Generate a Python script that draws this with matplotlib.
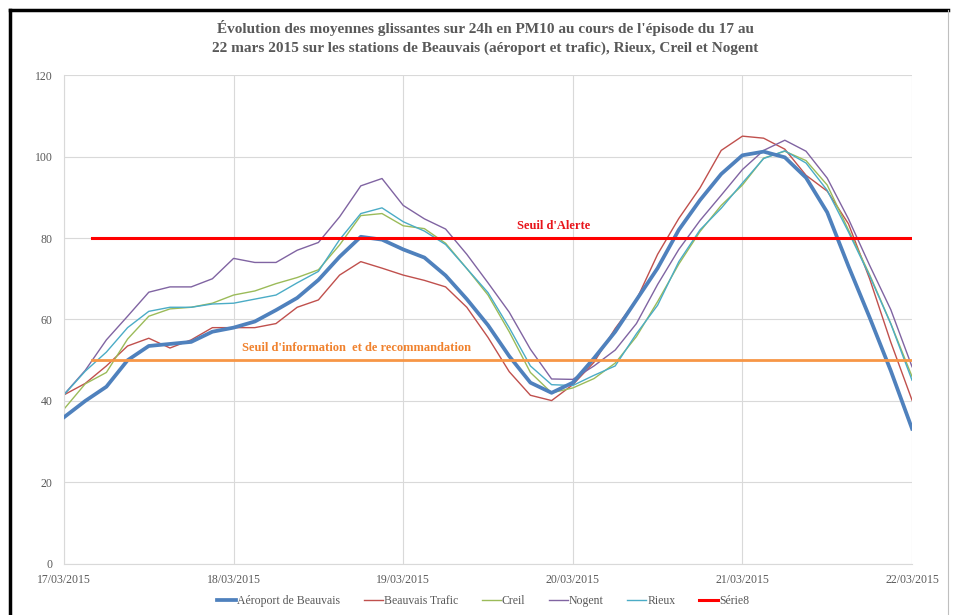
import numpy as np
import pandas as pd
import matplotlib
matplotlib.use("Agg")
import matplotlib.pyplot as plt
import matplotlib.dates as mdates
from matplotlib.lines import Line2D

# 24h rolling means, read every 3 hours from 17/03/2015 00h to 22/03/2015 00h
hours = pd.date_range("2015-03-17 00:00", "2015-03-22 00:00", freq="3h")

aeroport = [36, 40, 43.5, 50, 53.5, 54, 54.5, 57, 58,
            59.5, 62.3, 65.3, 69.7, 75.4, 80.3, 79.6, 77.2,
            75.2, 70.8, 65, 58.6, 51, 44.5, 42, 44.5,
            50.5, 57, 64.8, 72.6, 82, 89.3, 95.7, 100.3,
            101.2, 99.8, 94.8, 86.3, 73.1, 60.5, 47.4, 33.2]
trafic = [41.5, 44.3, 48.6, 53.5, 55.4, 53, 55, 58, 58,
          58, 59, 63, 64.8, 70.9, 74.2, 72.6, 70.9,
          69.6, 68, 63, 55.6, 47.2, 41.4, 40.1, 44,
          49.5, 57.8, 64.8, 76, 84.8, 92.3, 101.5, 105,
          104.5, 101.8, 95.4, 91.5, 83.5, 70, 54.4, 40.2]
creil = [38, 44.2, 47, 55.2, 60.8, 62.6, 63, 64, 66,
         67, 68.8, 70.3, 72.2, 78.3, 85.5, 86, 83,
         82.3, 78.7, 72.5, 66, 57, 47, 42, 43.2,
         45.5, 49.3, 55.8, 64.4, 73.6, 81.6, 88, 93,
         99.6, 101.3, 99, 93, 82, 71, 59, 46]
nogent = [41.6, 47.5, 55, 60.8, 66.7, 68, 68, 70, 75,
          74, 74, 77, 78.9, 85.2, 92.8, 94.6, 88,
          84.7, 82.2, 76, 69, 61.8, 52.7, 45.4, 45.3,
          48.6, 52.5, 59, 68.6, 77.2, 84.3, 90.5, 96.8,
          101.5, 104, 101.3, 94.7, 84.7, 73.3, 62.4, 48.4]
rieux = [41.5, 47.3, 52, 58, 62, 63, 63, 63.8, 64,
         65, 66, 69, 71.8, 79.6, 86, 87.4, 84,
         81.7, 78.4, 72.5, 66.6, 58, 48.6, 44, 43.8,
         46.3, 48.6, 56.5, 63.5, 74.2, 82, 87.3, 93.5,
         99.5, 101.4, 98.4, 91.7, 81.5, 70.7, 58.9, 45.1]

seuil_x = pd.to_datetime(["2015-03-17 04:00", "2015-03-22 00:00"])
seuil_alerte = [80, 80]
seuil_info = [50, 50]

day_ticks = pd.date_range("2015-03-17", "2015-03-22", freq="D")

serif = ["Liberation Serif", "DejaVu Serif"]
grey = "#595959"

fig = plt.figure(figsize=(9.55, 6.15), dpi=100)
ax = fig.add_axes([0.067, 0.083, 0.888, 0.795])

ax.plot(hours, aeroport, color="#4F81BD", lw=2.7, label="Aéroport de Beauvais", zorder=5)
ax.plot(hours, trafic, color="#C0504D", lw=1.0, label="Beauvais Trafic")
ax.plot(hours, creil, color="#9BBB59", lw=1.0, label="Creil")
ax.plot(hours, nogent, color="#8064A2", lw=1.0, label="Nogent")
ax.plot(hours, rieux, color="#4BACC6", lw=1.0, label="Rieux")
ax.plot(seuil_x, seuil_alerte, color="#FF0000", lw=2.2, label="Série8", zorder=6)
ax.plot(seuil_x, seuil_info, color="#F79646", lw=2.0, zorder=6)

ax.text(0.577, 0.691, "Seuil d'Alerte", transform=ax.transAxes, ha="center", va="center",
        color="#E8141B", fontsize=9, fontweight="bold", family=serif)
ax.text(0.345, 0.442, "Seuil d'information  et de recommandation", transform=ax.transAxes,
        ha="center", va="center", color="#F0822E", fontsize=9, fontweight="bold", family=serif)

ax.set_xlim(day_ticks[0], day_ticks[-1])
ax.set_ylim(0, 120)
ax.set_yticks(np.arange(0, 121, 20))
ax.set_xticks(day_ticks)
ax.xaxis.set_major_formatter(mdates.DateFormatter("%d/%m/%Y"))
ax.grid(True, color="#D9D9D9", lw=0.8)
ax.set_axisbelow(True)
for s in ["top", "right"]:
    ax.spines[s].set_visible(False)
for s in ["left", "bottom"]:
    ax.spines[s].set_color("#D9D9D9")
ax.tick_params(length=0, colors=grey, labelsize=8.5)
ax.tick_params(axis="y", pad=8)
ax.tick_params(axis="x", pad=7)
for lab in ax.get_xticklabels() + ax.get_yticklabels():
    lab.set_family(serif)

fig.text(0.508, 0.939, "Évolution des moyennes glissantes sur 24h en PM10 au cours de l'épisode du 17 au\n"
         "22 mars 2015 sur les stations de Beauvais (aéroport et trafic), Rieux, Creil et Nogent",
         ha="center", va="center", fontsize=11, fontweight="bold", color=grey, family=serif,
         linespacing=1.45)

handles, labels = ax.get_legend_handles_labels()
leg = fig.legend(handles, labels, loc="center", bbox_to_anchor=(0.506, 0.022), ncol=6,
                 frameon=False, handlelength=1.6, handletextpad=0.1, columnspacing=2.0,
                 prop={"family": serif, "size": 8.5})
for t in leg.get_texts():
    t.set_color(grey)

# chart frame
fig.add_artist(Line2D([10 / 955, 10 / 955], [0, 1 - 10 / 615], color="black", lw=2.5,
                      transform=fig.transFigure))
fig.add_artist(Line2D([10 / 955, 948 / 955], [1 - 10 / 615, 1 - 10 / 615], color="black", lw=2.5,
                      transform=fig.transFigure))
fig.add_artist(Line2D([948 / 955, 948 / 955], [0, 1 - 10 / 615], color="#BFBFBF", lw=0.8,
                      transform=fig.transFigure))

fig.savefig("out.png", dpi=100)
